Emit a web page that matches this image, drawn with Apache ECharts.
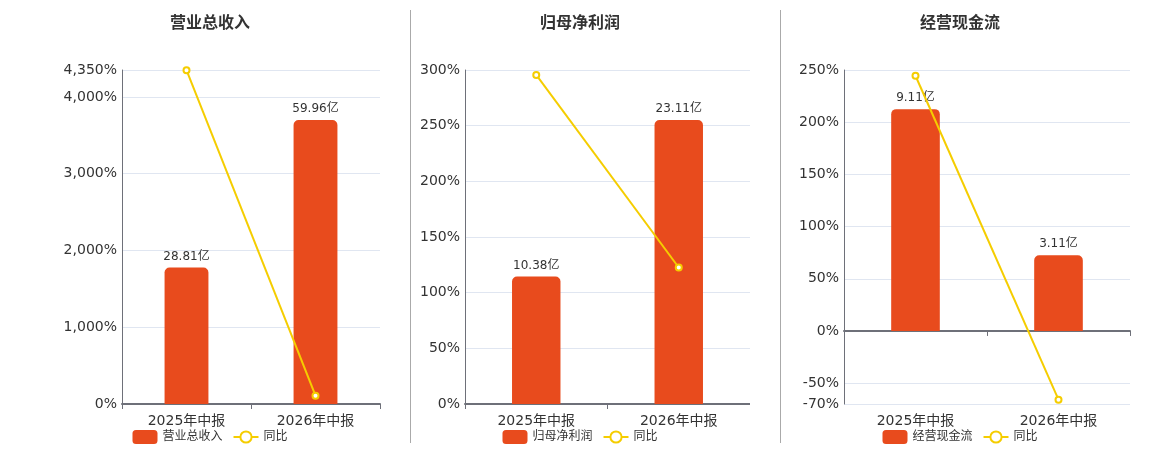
<!DOCTYPE html>
<html>
<head>
<meta charset="utf-8">
<script src="https://cdn.jsdelivr.net/npm/echarts@6/dist/echarts.min.js"></script>
<style>
  html, body { margin: 0; padding: 0; background: #fff; }
  #wrap { position: relative; width: 1160px; height: 450px; overflow: hidden; }
  .panel { position: absolute; top: 0; height: 450px; }
  .divider { position: absolute; top: 10px; height: 433px; width: 1px; background: #aaa; z-index: 5; }
</style>
</head>
<body>
<div id="wrap">
  <div class="panel" id="p0" style="left:0;width:420px"></div>
  <div class="panel" id="p1" style="left:410px;width:340px"></div>
  <div class="panel" id="p2" style="left:780px;width:360px"></div>
  <div class="divider" style="left:410px"></div>
  <div class="divider" style="left:780px"></div>
</div>
<script>
// 报告期
const categories = ['2025年中报', '2026年中报']
const titles = ['营业总收入', '归母净利润', '经营现金流']

// 金额(亿)
const revenue = [28.81, 59.96]
const netProfit = [10.38, 23.11]
const cashFlow = [9.11, 3.11]

// 同比(%)
const revenueYoy = [4348, 108.1]
const netProfitYoy = [295.6, 122.6]
const cashFlowYoy = [244.5, -65.9]

// 左轴范围(%)
const pctMin = [0, 0, -70]
const pctMax = [4350, 300, 250]

const barData = [revenue, netProfit, cashFlow]
const yoyData = [revenueYoy, netProfitYoy, cashFlowYoy]

// 每个面板的网格位置
const grids = [
  { left: 122, right: 40 },
  { left: 55, right: 0 },
  { left: 64, right: 10 }
]

function fmtPct (v) {
  return v.toLocaleString('en-US') + '%'
}

titles.forEach(function (name, i) {
  const chart = echarts.init(document.getElementById('p' + i))
  const bars = barData[i]
  // 柱子用隐藏的右轴，0 点和左轴对齐
  const barMax = Math.max.apply(null, bars) / 0.85
  const barMin = barMax * pctMin[i] / pctMax[i]

  const option = {
    animation: false,
    textStyle: { fontFamily: 'DejaVu Sans, Noto Sans CJK SC, sans-serif' },
    title: {
      text: name,
      left: 'center',
      top: 11,
      textStyle: { fontSize: 16, fontWeight: 'bold', color: '#333' }
    },
    legend: {
      left: 'center',
      top: 425,
      itemWidth: 25,
      itemHeight: 14,
      itemGap: 10,
      textStyle: { fontSize: 12, color: '#333' },
      data: [name, '同比']
    },
    grid: { left: grids[i].left, right: grids[i].right, top: 70, bottom: 46 },
    xAxis: [
      {
        type: 'category',
        data: categories,
        position: 'bottom',
        axisLine: { show: false, onZero: false },
        axisTick: { show: false },
        axisLabel: { fontSize: 14, color: '#333', margin: 10 }
      },
      {
        type: 'category',
        data: categories,
        position: 'bottom',
        axisLine: { show: true, onZero: true, onZeroAxisIndex: 0, lineStyle: { color: '#6E7079', width: 2 } },
        axisTick: { show: true, length: 5, lineStyle: { color: '#6E7079' } },
        axisLabel: { show: false }
      }
    ],
    yAxis: [
      {
        type: 'value',
        min: pctMin[i],
        max: pctMax[i],
        axisLine: { show: true, lineStyle: { color: '#6E7079', width: 1 } },
        axisTick: { show: false },
        axisLabel: { fontSize: 14, color: '#333', margin: 5, padding: [3, 0, 0, 0], formatter: fmtPct },
        splitLine: { lineStyle: { color: '#E0E6F1' } }
      },
      {
        type: 'value',
        show: false,
        min: barMin,
        max: barMax,
        splitLine: { show: false }
      }
    ],
    series: [
      {
        name: name,
        type: 'bar',
        xAxisIndex: 0,
        yAxisIndex: 1,
        barWidth: '34%',
        data: bars,
        itemStyle: { color: '#E84B1D', borderRadius: [5, 5, 0, 0] },
        label: {
          show: true,
          position: 'top',
          fontSize: 12,
          color: '#333',
          formatter: function (p) { return p.value + '亿' }
        }
      },
      {
        name: '同比',
        type: 'line',
        xAxisIndex: 0,
        yAxisIndex: 0,
        data: yoyData[i],
        symbol: 'emptyCircle',
        symbolSize: 6,
        z: 5,
        itemStyle: { color: '#F5CD00' },
        lineStyle: { color: '#F5CD00', width: 2 }
      }
    ]
  }
  chart.setOption(option)
})
</script>
</body>
</html>
